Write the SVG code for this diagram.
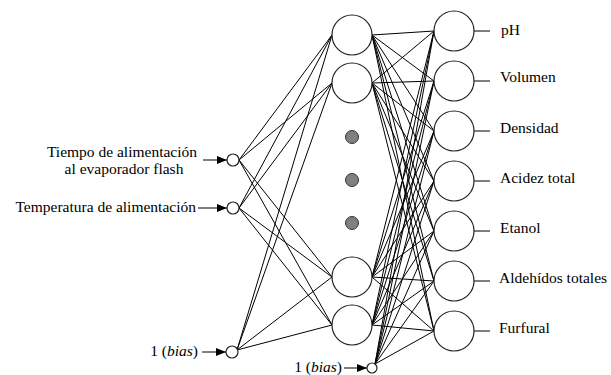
<svg xmlns="http://www.w3.org/2000/svg" width="611" height="375" viewBox="0 0 611 375">
<style>
.n{fill:#fff;stroke:#222;stroke-width:1.2}
.d{fill:#808080;stroke:#333;stroke-width:1}
.c line{stroke:#000;stroke-width:1}
.a{stroke:#000;stroke-width:1.2;marker-end:url(#ah)}
</style>
<defs>
<marker id="ah" markerWidth="10" markerHeight="8" refX="10" refY="4" orient="auto" markerUnits="userSpaceOnUse">
<path d="M0,0 L10,4 L0,8 Z" fill="#000"/>
</marker>
</defs>
<g class="c" id="connectors">
<line x1="239" y1="160" x2="332" y2="35"/><line x1="239" y1="160" x2="332" y2="83"/><line x1="239" y1="160" x2="332" y2="277"/><line x1="239" y1="160" x2="332" y2="325"/>
<line x1="239" y1="208" x2="332" y2="35"/><line x1="239" y1="208" x2="332" y2="83"/><line x1="239" y1="208" x2="332" y2="277"/><line x1="239" y1="208" x2="332" y2="325"/>
<line x1="237" y1="350" x2="332" y2="35"/><line x1="237" y1="350" x2="332" y2="83"/><line x1="237" y1="350" x2="332" y2="277"/><line x1="237" y1="350" x2="332" y2="325"/>
<line x1="372" y1="35" x2="434" y2="31"/><line x1="372" y1="35" x2="434" y2="81"/><line x1="372" y1="35" x2="434" y2="131"/><line x1="372" y1="35" x2="434" y2="181"/><line x1="372" y1="35" x2="434" y2="231"/><line x1="372" y1="35" x2="434" y2="281"/><line x1="372" y1="35" x2="434" y2="331"/>
<line x1="372" y1="83" x2="434" y2="31"/><line x1="372" y1="83" x2="434" y2="81"/><line x1="372" y1="83" x2="434" y2="131"/><line x1="372" y1="83" x2="434" y2="181"/><line x1="372" y1="83" x2="434" y2="231"/><line x1="372" y1="83" x2="434" y2="281"/><line x1="372" y1="83" x2="434" y2="331"/>
<line x1="372" y1="277" x2="434" y2="31"/><line x1="372" y1="277" x2="434" y2="81"/><line x1="372" y1="277" x2="434" y2="131"/><line x1="372" y1="277" x2="434" y2="181"/><line x1="372" y1="277" x2="434" y2="231"/><line x1="372" y1="277" x2="434" y2="281"/><line x1="372" y1="277" x2="434" y2="331"/>
<line x1="372" y1="325" x2="434" y2="31"/><line x1="372" y1="325" x2="434" y2="81"/><line x1="372" y1="325" x2="434" y2="131"/><line x1="372" y1="325" x2="434" y2="181"/><line x1="372" y1="325" x2="434" y2="231"/><line x1="372" y1="325" x2="434" y2="281"/><line x1="372" y1="325" x2="434" y2="331"/>
<line x1="375" y1="364" x2="434" y2="31"/><line x1="375" y1="364" x2="434" y2="81"/><line x1="375" y1="364" x2="434" y2="131"/><line x1="375" y1="364" x2="434" y2="181"/><line x1="375" y1="364" x2="434" y2="231"/><line x1="375" y1="364" x2="434" y2="281"/><line x1="375" y1="364" x2="434" y2="331"/>
<line x1="474" y1="31" x2="490" y2="31"/><line x1="474" y1="81" x2="490" y2="81"/><line x1="474" y1="131" x2="490" y2="131"/><line x1="474" y1="181" x2="490" y2="181"/><line x1="474" y1="231" x2="490" y2="231"/><line x1="474" y1="281" x2="490" y2="281"/><line x1="474" y1="331" x2="490" y2="331"/>
<line class="a" x1="203" y1="160" x2="227" y2="160"/>
<line class="a" x1="198" y1="208" x2="227" y2="208"/>
<line class="a" x1="202" y1="352" x2="226" y2="352"/>
<line class="a" x1="344" y1="368" x2="367" y2="368"/>
</g>
<g font-family="'Liberation Serif', 'Times New Roman', serif" font-size="15.5" fill="#000">
<g id="in1"><circle class="n" cx="233" cy="160" r="6"/><text x="122" y="157" text-anchor="middle">Tiempo de alimentación</text><text x="124" y="174" text-anchor="middle">al evaporador flash</text></g>
<g id="in2"><circle class="n" cx="233" cy="208" r="6"/><text x="196" y="212" text-anchor="end">Temperatura de alimentación</text></g>
<g id="bias1"><circle class="n" cx="232" cy="352" r="6"/><text x="198" y="356" text-anchor="end">1 (<tspan font-style="italic">bias</tspan>)</text></g>
<g id="h1"><circle class="n" cx="352" cy="35" r="20"/></g>
<g id="h2"><circle class="n" cx="352" cy="83" r="20"/></g>
<g id="dots"><circle class="d" cx="352" cy="137" r="6.5"/><circle class="d" cx="352" cy="180" r="6.5"/><circle class="d" cx="352" cy="223" r="6.5"/></g>
<g id="h3"><circle class="n" cx="352" cy="277" r="20"/></g>
<g id="h4"><circle class="n" cx="352" cy="325" r="20"/></g>
<g id="bias2"><circle class="n" cx="372" cy="368" r="5"/><text x="342" y="372" text-anchor="end">1 (<tspan font-style="italic">bias</tspan>)</text></g>
<g id="o1"><circle class="n" cx="454" cy="31" r="20"/><text x="501" y="35">pH</text></g>
<g id="o2"><circle class="n" cx="454" cy="81" r="20"/><text x="500" y="82">Volumen</text></g>
<g id="o3"><circle class="n" cx="454" cy="131" r="20"/><text x="500" y="133">Densidad</text></g>
<g id="o4"><circle class="n" cx="454" cy="181" r="20"/><text x="500" y="183">Acidez total</text></g>
<g id="o5"><circle class="n" cx="454" cy="231" r="20"/><text x="500" y="233">Etanol</text></g>
<g id="o6"><circle class="n" cx="454" cy="281" r="20"/><text x="499" y="283">Aldehídos totales</text></g>
<g id="o7"><circle class="n" cx="454" cy="331" r="20"/><text x="499" y="333">Furfural</text></g>
</g>
</svg>
